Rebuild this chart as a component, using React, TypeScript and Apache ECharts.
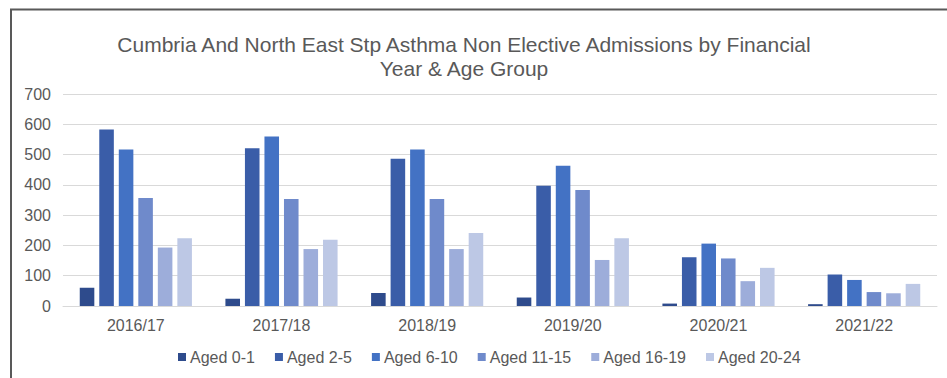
import React, { useEffect, useRef } from "react";
import * as echarts from "echarts";

const years = ["2016/17", "2017/18", "2018/19", "2019/20", "2020/21", "2021/22"];
const ageGroups = ["Aged 0-1", "Aged 2-5", "Aged 6-10", "Aged 11-15", "Aged 16-19", "Aged 20-24"];
const aged0to1 = [60, 24, 43, 28, 8, 6];
const aged2to5 = [583, 521, 486, 397, 161, 104];
const aged6to10 = [517, 560, 517, 463, 206, 86];
const aged11to15 = [357, 353, 353, 383, 157, 46];
const aged16to19 = [193, 188, 188, 152, 82, 42];
const aged20to24 = [224, 219, 241, 224, 126, 73];
const yTicks = { min: 0, max: 700, interval: 100 };
const colors = ["#2E4B8C", "#3A5DA8", "#4372C4", "#6F8ACB", "#9DADDA", "#BDC8E5"];
const titleText = "Cumbria And North East Stp Asthma Non Elective Admissions by Financial\nYear & Age Group";

export default function App() {
  const ref = useRef<HTMLDivElement>(null);
  useEffect(() => {
    if (!ref.current) return;
    const chart = echarts.init(ref.current, undefined, { renderer: "svg" });
    const seriesData = [aged0to1, aged2to5, aged6to10, aged11to15, aged16to19, aged20to24];
    const font = "'Liberation Sans', Arial, sans-serif";
    chart.setOption({
      animation: false,
      backgroundColor: "#ffffff",
      color: colors,
      textStyle: { fontFamily: font },
      graphic: [
        {
          type: "polyline",
          shape: { points: [[11, 378], [11, 9.5], [947, 9.5]] },
          style: { stroke: "#595959", lineWidth: 2, fill: "none" },
          silent: true,
        },
        {
          type: "text",
          x: 464,
          y: 32,
          silent: true,
          style: {
            text: titleText,
            fill: "#595959",
            font: "21px 'Liberation Sans', Arial, sans-serif",
            textAlign: "center",
            textVerticalAlign: "top",
            lineHeight: 24,
          },
        },
      ],
      legend: {
        data: ageGroups,
        left: 173,
        top: 344,
        itemWidth: 8,
        itemHeight: 8,
        itemGap: 20,
        icon: "rect",
        textStyle: { fontSize: 16, color: "#595959", fontFamily: font, padding: [0, 0, 0, -1] },
      },
      grid: { left: 63, right: 10, top: 94, bottom: 72 },
      xAxis: {
        type: "category",
        data: years,
        axisTick: { show: false },
        axisLine: { lineStyle: { color: "#D9D9D9", width: 1 } },
        axisLabel: { fontSize: 16, color: "#595959", margin: 11, fontFamily: font },
      },
      yAxis: {
        type: "value",
        min: yTicks.min,
        max: yTicks.max,
        interval: yTicks.interval,
        axisLine: { show: false },
        axisTick: { show: false },
        splitLine: { lineStyle: { color: "#D9D9D9", width: 1 } },
        axisLabel: { fontSize: 16, color: "#595959", margin: 12, fontFamily: font },
      },
      series: ageGroups.map((name, i) => ({
        name,
        type: "bar",
        data: seriesData[i],
        barGap: "34%",
        barCategoryGap: "23%",
      })),
    });
    return () => chart.dispose();
  }, []);
  return (
    <div
      ref={ref}
      style={{ position: "fixed", left: 0, top: 0, width: 947, height: 378 }}
    />
  );
}
